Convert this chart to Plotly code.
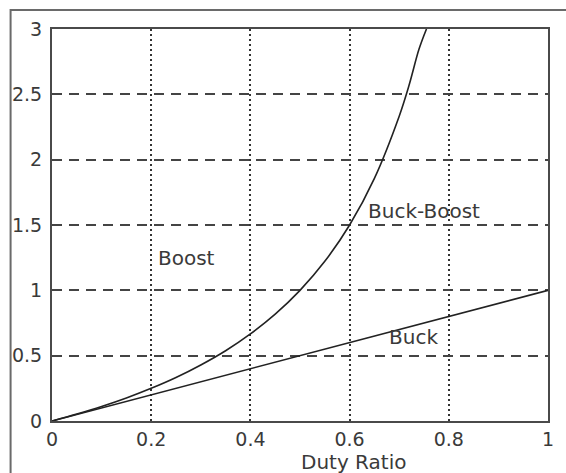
import plotly.graph_objects as go

# Duty ratio values and voltage gains
duty_bb = [0, 0.05, 0.1, 0.15, 0.2, 0.25, 0.3, 0.35, 0.4, 0.45, 0.5, 0.55, 0.6, 0.65, 0.7, 0.72, 0.74, 0.755]
gain_bb = [0, 0.053, 0.111, 0.176, 0.25, 0.333, 0.429, 0.538, 0.667, 0.818, 1.0, 1.222, 1.5, 1.857, 2.333, 2.571, 2.846, 3.0]

duty_buck = [0, 0.2, 0.4, 0.6, 0.8, 1.0]
gain_buck = [0, 0.2, 0.4, 0.6, 0.8, 1.0]

x_ticks = [0, 0.2, 0.4, 0.6, 0.8, 1]
x_labels = ["0", "0.2", "0.4", "0.6", "0.8", "1"]
y_ticks = [0, 0.5, 1, 1.5, 2, 2.5, 3]
y_labels = ["0", "0.5", "1", "1.5", "2", "2.5", "3"]

labels = ["Boost", "Buck-Boost", "Buck"]
label_x = [0.21, 0.634, 0.676]
label_y = [1.25, 1.61, 0.64]

line_col = "#222222"
text_col = "#3a3a3a"
font_family = "DejaVu Sans"

fig = go.Figure()
fig.add_trace(go.Scatter(x=duty_bb, y=gain_bb, mode="lines", line=dict(color=line_col, width=1.6, shape="spline"),
                         showlegend=False, hoverinfo="skip"))
fig.add_trace(go.Scatter(x=duty_buck, y=gain_buck, mode="lines", line=dict(color=line_col, width=1.6),
                         showlegend=False, hoverinfo="skip"))

for t, lx, ly in zip(labels, label_x, label_y):
    fig.add_annotation(x=lx, y=ly, text=t, showarrow=False, xanchor="left", yanchor="middle",
                       font=dict(family=font_family, size=20, color=text_col))

fig.add_annotation(x=0.608, y=-0.105, xref="paper", yref="paper", text="Duty Ratio", showarrow=False,
                   xanchor="center", yanchor="middle", font=dict(family=font_family, size=20, color=text_col))

# outer frame (image border)
fig.add_shape(type="path", xref="paper", yref="paper",
              path="M -0.0835 -0.2 L -0.0835 1.0485 L 1.1 1.0485",
              line=dict(color="#6a6a6a", width=2))

fig.update_layout(
    width=566, height=473,
    margin=dict(l=48, r=12, t=29, b=52),
    paper_bgcolor="white", plot_bgcolor="white",
    font=dict(family=font_family, size=18, color=text_col),
    xaxis=dict(range=[0, 1], tickvals=x_ticks, ticktext=x_labels, showgrid=True,
               gridcolor="#333333", gridwidth=1.8, griddash="2px,3px",
               showline=True, linecolor="#4a4a4a", linewidth=2, mirror=True,
               ticks="", zeroline=False, tickfont=dict(size=19, family=font_family, color=text_col)),
    yaxis=dict(range=[0, 3], tickvals=y_ticks, ticktext=y_labels, showgrid=True,
               gridcolor="#444444", gridwidth=1.6, griddash="10px,7px",
               showline=True, linecolor="#4a4a4a", linewidth=2, mirror=True,
               ticks="", zeroline=False, ticklabelstandoff=4,
               tickfont=dict(size=19, family=font_family, color=text_col)),
)

fig.write_html("out.html", config={"displayModeBar": False},
               post_script="document.body.style.margin='0px';document.body.style.overflow='hidden';")
